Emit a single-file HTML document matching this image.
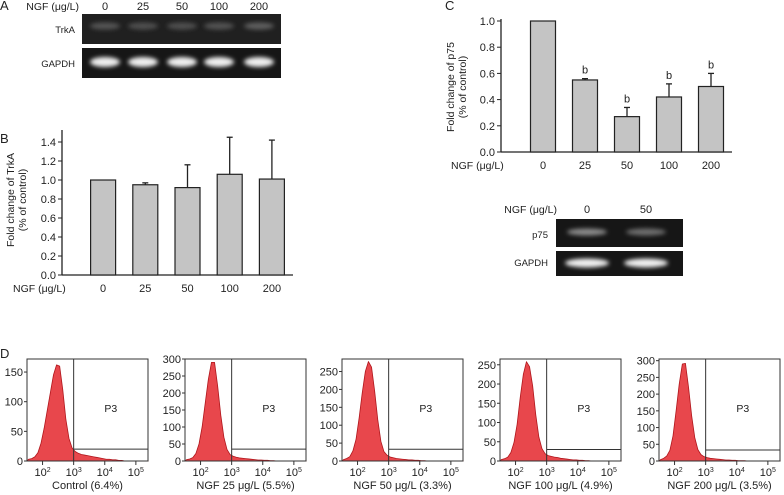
<!DOCTYPE html>
<html><head><meta charset="utf-8">
<style>
html,body{margin:0;padding:0;background:#fff;}
svg{display:block;font-family:"Liberation Sans",sans-serif;}
text{fill:#222;}
</style></head>
<body>
<svg id="fig" width="784" height="495" viewBox="0 0 784 495" xmlns="http://www.w3.org/2000/svg">
<defs>
<filter id="glow" x="-50%" y="-100%" width="200%" height="300%"><feGaussianBlur stdDeviation="2"/></filter>
</defs>
<g id="root"></g>
</svg>
<script>
// ---- Panel A gel ----
const gelALanes = ["0","25","50","100","200"];
const gelATrkA = [0.22,0.2,0.2,0.21,0.27];
const gelAGapdh = [1,1,1,1,1];
// ---- Panel B ----
const bCategories = ["0","25","50","100","200"];
const bValues = [1.00,0.95,0.92,1.06,1.01];
const bErrors = [0.00,0.02,0.24,0.39,0.41];
const bTicks = [0.0,0.2,0.4,0.6,0.8,1.0,1.2,1.4];
// ---- Panel C ----
const cCategories = ["0","25","50","100","200"];
const cValues = [1.00,0.55,0.27,0.42,0.50];
const cErrors = [0.00,0.01,0.07,0.10,0.10];
const cSig = ["","b","b","b","b"];
const cTicks = [0.0,0.2,0.4,0.6,0.8,1.0];
// ---- Panel C gel ----
const gelCLanes = ["0","50"];
const gelCP75 = [0.45,0.32];
// ---- Panel D histograms (bins log10 from 1.5 step 0.1) ----
const dLabels = ["Control (6.4%)","NGF 25 μg/L (5.5%)","NGF 50 μg/L (3.3%)","NGF 100 μg/L (4.9%)","NGF 200 μg/L (3.5%)"];
const dYMax = [172,300,285,265,305];
const dYTicks = [[0,50,100,150],[0,50,100,150,200,250,300],[0,50,100,150,200,250],[0,50,100,150,200,250],[0,50,100,150,200,250,300]];
const dGate = [20,35,33,30,33];
const dHist0 = [3,4,7,14,30,55,85,115,145,162,160,120,70,38,22,16,13,11,10,9,8,7,6,5,4,3,3,2,2,1,1,0,0,0,0,0,0,0,0];
const dHist1 = [4,6,10,22,50,100,170,240,290,290,220,135,70,34,19,14,11,9,8,7,6,5,4,3,3,2,2,1,1,0,0,0,0,0,0,0,0,0,0];
const dHist2 = [4,7,12,28,60,120,190,250,278,262,195,115,55,26,16,11,9,7,6,5,4,3,3,2,2,1,1,0,0,0,0,0,0,0,0,0,0,0,0];
const dHist3 = [4,6,10,22,48,95,165,225,258,245,195,120,62,32,19,14,12,10,9,7,6,5,4,3,3,2,2,1,1,0,0,0,0,0,0,0,0,0,0];
const dHist4 = [4,8,15,32,75,150,230,290,292,220,135,70,34,19,13,10,8,7,6,5,4,3,3,2,2,1,1,1,0,0,0,0,0,0,0,0,0,0,0];
const dHists = [dHist0,dHist1,dHist2,dHist3,dHist4];
const dTickLabels = ["2","3","4","5"];

const NS="http://www.w3.org/2000/svg";
const root=document.getElementById('root');
function mk(tag,attrs,parent,txt){const e=document.createElementNS(NS,tag);for(const k in attrs)e.setAttribute(k,attrs[k]);if(txt!==undefined)e.textContent=txt;(parent||root).appendChild(e);return e;}
function txt(x,y,s,size,anchor,parent,extra){const t=mk('text',Object.assign({x:x,y:y,'font-size':size,'text-anchor':anchor||'middle'},extra||{}),parent,s);return t;}

// ===== Panel A =====
let gA=mk('g',{});


txt(0,10,"A",13,'start',gA);
txt(79,10,"NGF (μg/L)",10.5,'end',gA);
const gelAx=[105,143,182,219,259];
gelALanes.forEach((l,i)=>{const t=txt(gelAx[i],10,l,11,'middle',gA);});
let trk=mk('rect',{x:82,y:14,width:199,height:30,fill:'#202020'},gA);


let gap=mk('rect',{x:82,y:48,width:199,height:30,fill:'#161616'},gA);


txt(75,33,"TrkA",9.5,'end',gA);
txt(75,67,"GAPDH",9.5,'end',gA);
gelATrkA.forEach((v,i)=>{const c=Math.round(40+v*200);const e=mk('ellipse',{cx:gelAx[i],cy:26,rx:15,ry:3.5,fill:`rgb(${c},${c},${c})`,filter:'url(#glow)'},gA);});
gelAGapdh.forEach((v,i)=>{const e=mk('ellipse',{cx:gelAx[i],cy:62,rx:15,ry:5,fill:'#eeeeee',filter:'url(#glow)'},gA);});

// ===== Bar chart helper =====
function barChart(g,cats,vals,errs,ticks,ax,sig){
  const y=v=>ax.y0-(v-ticks[0])/(ticks[ticks.length-1]-ticks[0])*(ax.y0-ax.yTopTick);
  mk('line',{x1:ax.x0,y1:ax.yTop,x2:ax.x0,y2:ax.y0,stroke:'#222','stroke-width':1.3},g);
  mk('line',{x1:ax.x0,y1:ax.y0,x2:ax.x1,y2:ax.y0,stroke:'#222','stroke-width':1.3},g);
  ticks.forEach(t=>{mk('line',{x1:ax.x0-4,y1:y(t),x2:ax.x0,y2:y(t),stroke:'#222'},g);const l=txt(ax.x0-6,y(t)+4,t.toFixed(1),11,'end',g);});
  const step=(ax.x1-ax.xStart)/cats.length;
  cats.forEach((c,i)=>{
    const cx=ax.xStart+step*(i+0.5);
    const b=mk('rect',{x:cx-12.5,y:y(vals[i]),width:25,height:ax.y0-y(vals[i]),fill:'#c4c4c4',stroke:'#222','stroke-width':1.2},g);
    
    
    if(errs[i]>0){const ty=y(vals[i]+errs[i]);mk('line',{x1:cx,y1:y(vals[i]),x2:cx,y2:ty,stroke:'#222','stroke-width':1.3},g);mk('line',{x1:cx-3,y1:ty,x2:cx+3,y2:ty,stroke:'#222','stroke-width':1.3},g);
      if(sig&&sig[i]){const s=txt(cx,ty-5,sig[i],11,'middle',g);}}
    const l=txt(cx,ax.y0+17,c,11,'middle',g);
  });
  txt(ax.xLabel,ax.y0+17,"NGF (μg/L)",10.5,'start',g);
}

// ===== Panel B =====
let gB=mk('g',{});


txt(0,143,"B",13,'start',gB);
barChart(gB,bCategories,bValues,bErrors,bTicks,{x0:62,x1:293,xStart:82,y0:275,yTopTick:142,yTop:130,xLabel:13},null);
let bl=mk('text',{x:0,y:0,'font-size':10.5,'text-anchor':'middle',transform:'translate(14,200) rotate(-90)'},gB,"Fold change of TrkA");


mk('text',{x:0,y:0,'font-size':10.5,'text-anchor':'middle',transform:'translate(26,200) rotate(-90)'},gB,"(% of control)");

// ===== Panel C =====
let gC=mk('g',{});


txt(445,10,"C",13,'start',gC);
barChart(gC,cCategories,cValues,cErrors,cTicks,{x0:501,x1:732,xStart:522,y0:152,yTopTick:21,yTop:19,xLabel:451},cSig);
let cl=mk('text',{x:0,y:0,'font-size':10.5,'text-anchor':'middle',transform:'translate(454,87) rotate(-90)'},gC,"Fold change of p75");


mk('text',{x:0,y:0,'font-size':10.5,'text-anchor':'middle',transform:'translate(466,87) rotate(-90)'},gC,"(% of control)");

// Gel C
txt(557,213,"NGF (μg/L)",10.5,'end',gC);
const gelCx=[587,646];
gelCLanes.forEach((l,i)=>txt(gelCx[i],213,l,11,'middle',gC));
let p75=mk('rect',{x:556,y:219,width:127,height:28,fill:'#161616'},gC);


let gapc=mk('rect',{x:556,y:251,width:127,height:25,fill:'#161616'},gC);


txt(548,238,"p75",9.5,'end',gC);
txt(548,266,"GAPDH",9.5,'end',gC);
gelCP75.forEach((v,i)=>{const c=Math.round(40+v*220);const e=mk('ellipse',{cx:gelCx[i],cy:232,rx:20,ry:3.5,fill:`rgb(${c},${c},${c})`,filter:'url(#glow)'},gC);});
gelCx.forEach(x=>{const e=mk('ellipse',{cx:x,cy:263,rx:22,ry:4.5,fill:'#f0f0f0',filter:'url(#glow)'},gC);});

// ===== Panel D =====
let gD=mk('g',{});


txt(0,358,"D",13,'start',gD);
const pLeft=[27,185,342,500,659], pW=121, pTop=359, pBot=461;
const logMin=1.5, logMax=5.39;
dHists.forEach((h,p)=>{
  const g=mk('g',{},gD);
  
  
  const L=pLeft[p];
  const xs=v=>L+(v-logMin)/(logMax-logMin)*pW;
  const ys=c=>pBot-c/dYMax[p]*(pBot-pTop);
  let d=`M${xs(logMin)},${pBot}`;
  h.forEach((c,i)=>{const lv=logMin+i*0.1+0.05;d+=` L${xs(lv)},${ys(c)}`;});
  d+=` L${xs(logMin+h.length*0.1)},${pBot} Z`;
  const hp=mk('path',{d:d,fill:'#e8474c',stroke:'#b0161c','stroke-width':0.8,'stroke-linejoin':'round'},g);
  
  
  mk('rect',{x:L,y:pTop,width:pW,height:pBot-pTop,fill:'none',stroke:'#333','stroke-width':1},g);
  const gx=xs(3);
  const gate=mk('path',{d:`M${gx},${pTop} L${gx},${pBot} M${gx},${ys(dGate[p])} L${L+pW},${ys(dGate[p])}`,fill:'none',stroke:'#333','stroke-width':1},g);
  
  
  txt((gx+L+pW)/2,412,"P3",10.5,'middle',g);
  dYTicks[p].forEach(t=>{mk('line',{x1:L-3,y1:ys(t),x2:L,y2:ys(t),stroke:'#333'},g);const l=txt(L-4,ys(t)+4,String(t),11,'end',g);});
  dTickLabels.forEach(e=>{const x=xs(+e);mk('line',{x1:x,y1:pBot,x2:x,y2:pBot+4,stroke:'#333'},g);const t=mk('text',{x:x,y:pBot+15,'font-size':11,'text-anchor':'middle'},g);mk('tspan',{},t,"10");mk('tspan',{dy:-4,'font-size':7},t,e);});
  const lab=txt(L+pW/2,489,dLabels[p],11,'middle',g);
  
  
});
</script>
</body></html>
